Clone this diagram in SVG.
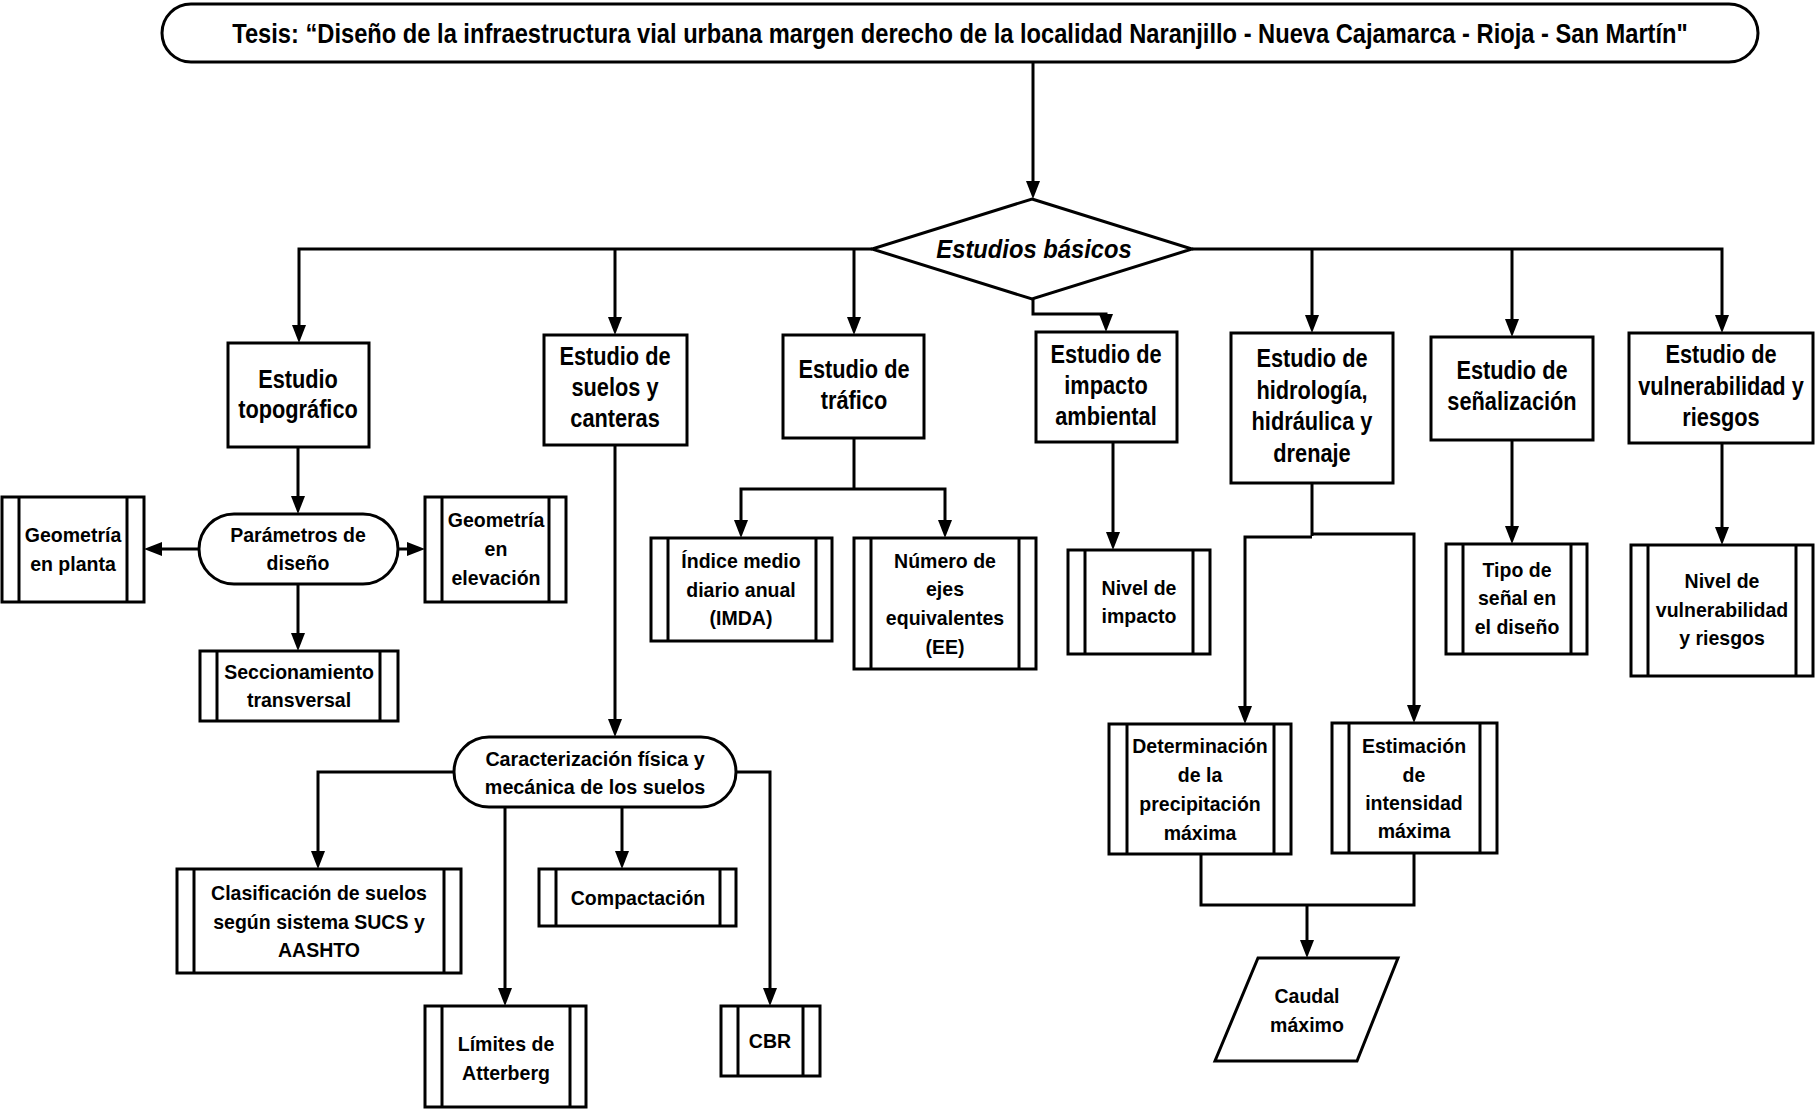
<svg xmlns="http://www.w3.org/2000/svg" width="1815" height="1109" viewBox="0 0 1815 1109">
<style>
.box{fill:#fff;stroke:#000;stroke-width:3}
.bar{stroke:#000;stroke-width:3}
#connectors path{fill:none;stroke:#000;stroke-width:3}
.t{font-family:"Liberation Sans",Arial,sans-serif;font-weight:bold;text-anchor:middle;fill:#000}
.L{font-size:25px}
.S{font-size:21px}
</style>
<defs>
<marker id="ah" markerUnits="userSpaceOnUse" viewBox="0 0 18 14" refX="10" refY="7" markerWidth="18" markerHeight="14" orient="auto">
<path d="M0,0 L18,7 L0,14 Z" fill="#000"/>
</marker>
</defs>
<rect width="1815" height="1109" fill="#fff"/>

<g id="connectors">
<path d="M1033,62 V191" marker-end="url(#ah)"/>
<path d="M872,249 H299 V335" marker-end="url(#ah)"/>
<path d="M615,249 V327" marker-end="url(#ah)"/>
<path d="M854,249 V327" marker-end="url(#ah)"/>
<path d="M1192,249 H1722 V325" marker-end="url(#ah)"/>
<path d="M1312,249 V325" marker-end="url(#ah)"/>
<path d="M1512,249 V329" marker-end="url(#ah)"/>
<path d="M1033,299 V314 H1106 V324" marker-end="url(#ah)"/>
<path d="M298,447 V506" marker-end="url(#ah)"/>
<path d="M199,549 H152" marker-end="url(#ah)"/>
<path d="M398,549 H417" marker-end="url(#ah)"/>
<path d="M298,584 V643" marker-end="url(#ah)"/>
<path d="M615,445 V729" marker-end="url(#ah)"/>
<path d="M454,772 H318 V861" marker-end="url(#ah)"/>
<path d="M505,807 V998" marker-end="url(#ah)"/>
<path d="M622,807 V861" marker-end="url(#ah)"/>
<path d="M736,772 H770 V998" marker-end="url(#ah)"/>
<path d="M854,438 V489"/>
<path d="M854,489 H741 V530" marker-end="url(#ah)"/>
<path d="M854,489 H945 V530" marker-end="url(#ah)"/>
<path d="M1113,442 V542" marker-end="url(#ah)"/>
<path d="M1312,483 V536"/>
<path d="M1312,537 H1245 V716" marker-end="url(#ah)"/>
<path d="M1312,534 H1414 V715" marker-end="url(#ah)"/>
<path d="M1512,440 V536" marker-end="url(#ah)"/>
<path d="M1722,443 V537" marker-end="url(#ah)"/>
<path d="M1201,854 V905 H1414 V853"/>
<path d="M1307,905 V950" marker-end="url(#ah)"/>
</g>

<g id="title">
<rect class="box" x="162" y="4" width="1596" height="58" rx="29"/>
<text class="t" font-size="28" transform="translate(960,43) scale(0.846,1)">Tesis: “Diseño de la infraestructura vial urbana margen derecho de la localidad Naranjillo - Nueva Cajamarca - Rioja - San Martín"</text>
</g>

<g id="estudios-basicos">
<polygon class="box" points="1032,199 1192,249 1032,299 872,249"/>
<text class="t L" font-style="italic" transform="translate(1034,258) scale(0.95,1)">Estudios básicos</text>
</g>

<g id="topografico">
<rect class="box" x="228" y="343" width="141" height="104"/>
<text class="t L" transform="translate(298,388) scale(0.87,1)"><tspan x="0" y="0">Estudio</tspan><tspan x="0" y="30.5">topográfico</tspan></text>
</g>

<g id="suelos">
<rect class="box" x="544" y="335" width="143" height="110"/>
<text class="t L" transform="translate(615,365) scale(0.87,1)"><tspan x="0" y="0">Estudio de</tspan><tspan x="0" y="31">suelos y</tspan><tspan x="0" y="62">canteras</tspan></text>
</g>

<g id="trafico">
<rect class="box" x="783" y="335" width="141" height="103"/>
<text class="t L" transform="translate(854,378) scale(0.87,1)"><tspan x="0" y="0">Estudio de</tspan><tspan x="0" y="31">tráfico</tspan></text>
</g>

<g id="impacto">
<rect class="box" x="1036" y="332" width="141" height="110"/>
<text class="t L" transform="translate(1106,363) scale(0.87,1)"><tspan x="0" y="0">Estudio de</tspan><tspan x="0" y="31">impacto</tspan><tspan x="0" y="62">ambiental</tspan></text>
</g>

<g id="hidrologia">
<rect class="box" x="1231" y="333" width="162" height="150"/>
<text class="t L" transform="translate(1312,367) scale(0.87,1)"><tspan x="0" y="0">Estudio de</tspan><tspan x="0" y="31.7">hidrología,</tspan><tspan x="0" y="63.4">hidráulica y</tspan><tspan x="0" y="95">drenaje</tspan></text>
</g>

<g id="senalizacion">
<rect class="box" x="1431" y="337" width="162" height="103"/>
<text class="t L" transform="translate(1512,379) scale(0.87,1)"><tspan x="0" y="0">Estudio de</tspan><tspan x="0" y="31.5">señalización</tspan></text>
</g>

<g id="vulnerabilidad">
<rect class="box" x="1629" y="333" width="184" height="110"/>
<text class="t L" transform="translate(1721,363) scale(0.87,1)"><tspan x="0" y="0">Estudio de</tspan><tspan x="0" y="32">vulnerabilidad y</tspan><tspan x="0" y="63.5">riesgos</tspan></text>
</g>

<g id="parametros">
<rect class="box" x="199" y="514" width="199" height="70" rx="35"/>
<text class="t S" transform="translate(298,542) scale(0.93,1)"><tspan x="0" y="0">Parámetros de</tspan><tspan x="0" y="28">diseño</tspan></text>
</g>

<g id="geometria-planta">
<rect class="box" x="2" y="497" width="142" height="105"/>
<line class="bar" x1="19" y1="497" x2="19" y2="602"/><line class="bar" x1="127" y1="497" x2="127" y2="602"/>
<text class="t S" transform="translate(73,542) scale(0.93,1)"><tspan x="0" y="0">Geometría</tspan><tspan x="0" y="29">en planta</tspan></text>
</g>

<g id="geometria-elevacion">
<rect class="box" x="425" y="497" width="141" height="105"/>
<line class="bar" x1="442" y1="497" x2="442" y2="602"/><line class="bar" x1="549" y1="497" x2="549" y2="602"/>
<text class="t S" transform="translate(496,527) scale(0.93,1)"><tspan x="0" y="0">Geometría</tspan><tspan x="0" y="29">en</tspan><tspan x="0" y="58">elevación</tspan></text>
</g>

<g id="seccionamiento">
<rect class="box" x="200" y="651" width="198" height="70"/>
<line class="bar" x1="217" y1="651" x2="217" y2="721"/><line class="bar" x1="380" y1="651" x2="380" y2="721"/>
<text class="t S" transform="translate(299,679) scale(0.93,1)"><tspan x="0" y="0">Seccionamiento</tspan><tspan x="0" y="28">transversal</tspan></text>
</g>

<g id="caracterizacion">
<rect class="box" x="454" y="737" width="282" height="70" rx="35"/>
<text class="t S" transform="translate(595,766) scale(0.94,1)"><tspan x="0" y="0">Caracterización física y</tspan><tspan x="0" y="28.5">mecánica de los suelos</tspan></text>
</g>

<g id="clasificacion">
<rect class="box" x="177" y="869" width="284" height="104"/>
<line class="bar" x1="194" y1="869" x2="194" y2="973"/><line class="bar" x1="444" y1="869" x2="444" y2="973"/>
<text class="t S" transform="translate(319,900) scale(0.93,1)"><tspan x="0" y="0">Clasificación de suelos</tspan><tspan x="0" y="29">según sistema SUCS y</tspan><tspan x="0" y="57.5">AASHTO</tspan></text>
</g>

<g id="compactacion">
<rect class="box" x="539" y="869" width="197" height="57"/>
<line class="bar" x1="556" y1="869" x2="556" y2="926"/><line class="bar" x1="720" y1="869" x2="720" y2="926"/>
<text class="t S" transform="translate(638,905) scale(0.93,1)">Compactación</text>
</g>

<g id="limites">
<rect class="box" x="425" y="1006" width="161" height="101"/>
<line class="bar" x1="442" y1="1006" x2="442" y2="1107"/><line class="bar" x1="570" y1="1006" x2="570" y2="1107"/>
<text class="t S" transform="translate(506,1051) scale(0.93,1)"><tspan x="0" y="0">Límites de</tspan><tspan x="0" y="29">Atterberg</tspan></text>
</g>

<g id="cbr">
<rect class="box" x="721" y="1006" width="99" height="70"/>
<line class="bar" x1="738" y1="1006" x2="738" y2="1076"/><line class="bar" x1="803" y1="1006" x2="803" y2="1076"/>
<text class="t S" transform="translate(770,1048) scale(0.93,1)">CBR</text>
</g>

<g id="imda">
<rect class="box" x="651" y="538" width="181" height="103"/>
<line class="bar" x1="668" y1="538" x2="668" y2="641"/><line class="bar" x1="816" y1="538" x2="816" y2="641"/>
<text class="t S" transform="translate(741,568) scale(0.93,1)"><tspan x="0" y="0">Índice medio</tspan><tspan x="0" y="29">diario anual</tspan><tspan x="0" y="57.5">(IMDA)</tspan></text>
</g>

<g id="ejes">
<rect class="box" x="854" y="538" width="182" height="131"/>
<line class="bar" x1="871" y1="538" x2="871" y2="669"/><line class="bar" x1="1019" y1="538" x2="1019" y2="669"/>
<text class="t S" transform="translate(945,568) scale(0.93,1)"><tspan x="0" y="0">Número de</tspan><tspan x="0" y="28.5">ejes</tspan><tspan x="0" y="57.5">equivalentes</tspan><tspan x="0" y="86.5">(EE)</tspan></text>
</g>

<g id="nivel-impacto">
<rect class="box" x="1068" y="550" width="142" height="104"/>
<line class="bar" x1="1085" y1="550" x2="1085" y2="654"/><line class="bar" x1="1193" y1="550" x2="1193" y2="654"/>
<text class="t S" transform="translate(1139,595) scale(0.93,1)"><tspan x="0" y="0">Nivel de</tspan><tspan x="0" y="28.5">impacto</tspan></text>
</g>

<g id="precipitacion">
<rect class="box" x="1109" y="724" width="182" height="130"/>
<line class="bar" x1="1127" y1="724" x2="1127" y2="854"/><line class="bar" x1="1274" y1="724" x2="1274" y2="854"/>
<text class="t S" transform="translate(1200,753) scale(0.93,1)"><tspan x="0" y="0">Determinación</tspan><tspan x="0" y="29">de la</tspan><tspan x="0" y="58">precipitación</tspan><tspan x="0" y="87">máxima</tspan></text>
</g>

<g id="intensidad">
<rect class="box" x="1332" y="723" width="165" height="130"/>
<line class="bar" x1="1349" y1="723" x2="1349" y2="853"/><line class="bar" x1="1480" y1="723" x2="1480" y2="853"/>
<text class="t S" transform="translate(1414,753) scale(0.93,1)"><tspan x="0" y="0">Estimación</tspan><tspan x="0" y="29">de</tspan><tspan x="0" y="57.5">intensidad</tspan><tspan x="0" y="85.5">máxima</tspan></text>
</g>

<g id="caudal">
<polygon class="box" points="1258,958 1398,958 1357,1061 1215,1061"/>
<text class="t S" transform="translate(1307,1003) scale(0.93,1)"><tspan x="0" y="0">Caudal</tspan><tspan x="0" y="29">máximo</tspan></text>
</g>

<g id="tipo-senal">
<rect class="box" x="1446" y="544" width="141" height="110"/>
<line class="bar" x1="1463" y1="544" x2="1463" y2="654"/><line class="bar" x1="1571" y1="544" x2="1571" y2="654"/>
<text class="t S" transform="translate(1517,577) scale(0.93,1)"><tspan x="0" y="0">Tipo de</tspan><tspan x="0" y="28.5">señal en</tspan><tspan x="0" y="57.5">el diseño</tspan></text>
</g>

<g id="nivel-vulnerabilidad">
<rect class="box" x="1631" y="545" width="182" height="131"/>
<line class="bar" x1="1648" y1="545" x2="1648" y2="676"/><line class="bar" x1="1796" y1="545" x2="1796" y2="676"/>
<text class="t S" transform="translate(1722,588) scale(0.93,1)"><tspan x="0" y="0">Nivel de</tspan><tspan x="0" y="29">vulnerabilidad</tspan><tspan x="0" y="57.5">y riesgos</tspan></text>
</g>
</svg>
